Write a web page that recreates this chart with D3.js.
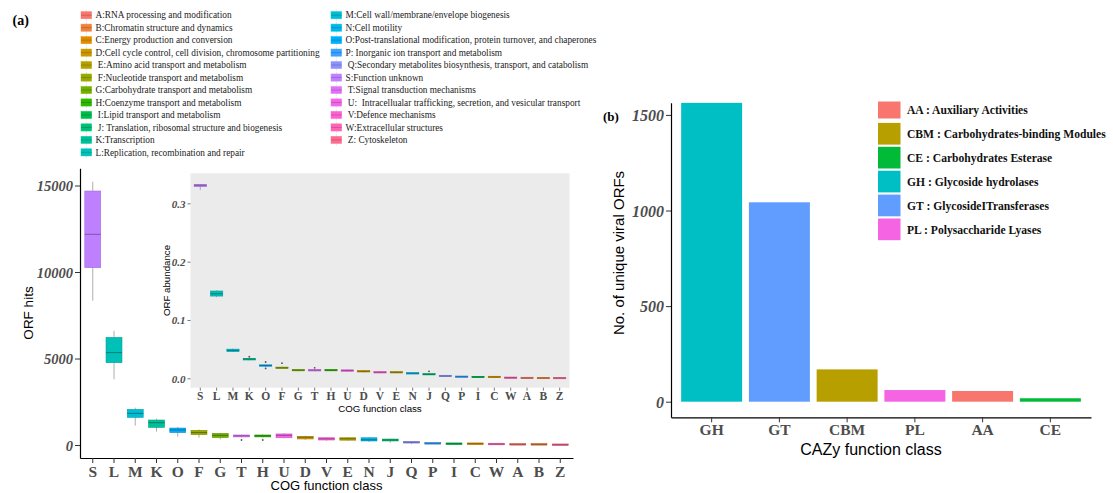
<!DOCTYPE html>
<html>
<head>
<meta charset="utf-8">
<script src="https://cdn.jsdelivr.net/npm/d3@7"></script>
<style>
  html, body { margin: 0; padding: 0; background: #fff; }
  svg { display: block; }
  text { white-space: pre; }
</style>
</head>
<body>
<svg id="chart" width="1113" height="493"></svg>
<script>
// ---------- COG panel (a) ----------
const cogClasses = ["S","L","M","K","O","F","G","T","H","U","D","V","E","N","J","Q","P","I","C","W","A","B","Z"];

// ORF hits per sample: five-number summaries
const hitsMin    = [8340, 3800, 1120,  770,  480,  420,  330,  440,  440,  380,  300,  250,  250,  180,  130,  60,  60,  40,  40,  30,  15,  15,  5];
const hitsQ1     = [10250,4760, 1600, 1020,  720,  600,  430,  470,  470,  420,  350,  290,  280,  235,  235, 130,  85,  65,  65,  50,  35,  33, 12];
const hitsMedian = [12180,5340, 1830, 1290,  870,  720,  560,  530,  530,  560,  450,  360,  360,  300,  290, 160, 100,  75,  75,  58,  40,  40, 17];
const hitsQ3     = [14680,6220, 2060, 1445,  980,  850,  670,  580,  580,  640,  500,  420,  420,  420,  345, 190, 110,  85,  85,  65,  45,  45, 20];
const hitsMax    = [15220,6600, 2160, 1520, 1050,  900,  700,  600,  600,  680,  530,  440,  440,  440,  360, 200, 120,  90,  90,  70,  50,  50, 25];
const hitsOutliers = [
  {cls: "T", value: 290},
  {cls: "H", value: 290}
];

// ORF abundance (inset): five-number summaries
const abMin    = [0.323, 0.139, 0.045,  0.031,  0.019, 0.016, 0.012, 0.012,  0.012,  0.0115, 0.010,  0.0095, 0.0095, 0.0075, 0.0062, 0.0035, 0.0022, 0.0018, 0.0018, 0.0006, 0.0002, 0.0002, 0.0001];
const abQ1     = [0.3285,0.141, 0.0457, 0.0314, 0.021, 0.017, 0.013, 0.013,  0.013,  0.0125, 0.011,  0.0098, 0.0098, 0.0080, 0.0065, 0.0038, 0.0025, 0.0020, 0.0020, 0.0008, 0.0004, 0.0003, 0.0003];
const abMedian = [0.331, 0.145, 0.048,  0.033,  0.022, 0.018, 0.014, 0.014,  0.014,  0.0135, 0.012,  0.0103, 0.0103, 0.0086, 0.0069, 0.0040, 0.0028, 0.0023, 0.0023, 0.0010, 0.0006, 0.0005, 0.0004];
const abQ3     = [0.3326,0.1497,0.050,  0.0343, 0.0228,0.019, 0.015, 0.0145, 0.015,  0.014,  0.013,  0.0108, 0.0108, 0.0090, 0.0075, 0.0042, 0.0030, 0.0025, 0.0026, 0.0012, 0.0008, 0.0007, 0.0005];
const abMax    = [0.333, 0.151, 0.051,  0.035,  0.023, 0.020, 0.0155,0.015,  0.0155, 0.015,  0.0135, 0.0125, 0.0125, 0.0095, 0.0085, 0.0045, 0.0033, 0.0028, 0.0028, 0.0015, 0.0010, 0.0009, 0.0007];
const abOutliers = [
  {cls: "K", value: 0.037},
  {cls: "O", value: 0.028},
  {cls: "O", value: 0.017},
  {cls: "F", value: 0.026},
  {cls: "T", value: 0.018},
  {cls: "J", value: 0.012}
];

const hitsTicks = [0, 5000, 10000, 15000];
const abTicks = [0.0, 0.1, 0.2, 0.3];

// legend entries (alphabetical, as in the factor levels)
const cogLegendCodes = ["A","B","C","D","E","F","G","H","I","J","K","L","M","N","O","P","Q","S","T","U","V","W","Z"];
const cogLegendLabels = [
  "A:RNA processing and modification",
  "B:Chromatin structure and dynamics",
  "C:Energy production and conversion",
  "D:Cell cycle control, cell division, chromosome partitioning",
  " E:Amino acid transport and metabolism",
  " F:Nucleotide transport and metabolism",
  "G:Carbohydrate transport and metabolism",
  "H:Coenzyme transport and metabolism",
  " I:Lipid transport and metabolism",
  " J: Translation, ribosomal structure and biogenesis",
  "K:Transcription",
  "L:Replication, recombination and repair",
  "M:Cell wall/membrane/envelope biogenesis",
  "N:Cell motility",
  "O:Post-translational modification, protein turnover, and chaperones",
  "P: Inorganic ion transport and metabolism",
  " Q:Secondary metabolites biosynthesis, transport, and catabolism",
  "S:Function unknown",
  " T:Signal transduction mechanisms",
  " U:  Intracellualar trafficking, secretion, and vesicular transport",
  " V:Defence mechanisms",
  "W:Extracellular structures",
  " Z: Cytoskeleton"
];

// ---------- CAZy panel (b) ----------
const cazyClasses = ["GH","GT","CBM","PL","AA","CE"];
const cazyCounts  = [1563, 1043, 169, 61, 56, 18];
const cazyTicks   = [0, 500, 1000, 1500];
const cazyLegendCodes  = ["AA","CBM","CE","GH","GT","PL"];
const cazyLegendLabels = [
  "AA : Auxiliary Activities",
  "CBM : Carbohydrates-binding Modules",
  "CE : Carbohydrates Esterase",
  "GH : Glycoside hydrolases",
  "GT : GlycosideITransferases",
  "PL : Polysaccharide Lyases"
];

// ---------- helpers ----------
// polar CIE-LUV -> sRGB hex (the default discrete hue palette)
function luvToHex(h, c, l) {
  const hr = h * Math.PI / 180, U = c * Math.cos(hr), V = c * Math.sin(hr);
  const Xn = 95.047, Yn = 100, Zn = 108.883;
  const dn = Xn + 15 * Yn + 3 * Zn, un = 4 * Xn / dn, vn = 9 * Yn / dn;
  const Y = l > 8 ? Yn * Math.pow((l + 16) / 116, 3) : Yn * l / 903.2963;
  const u = U / (13 * l) + un, v = V / (13 * l) + vn;
  const X = 9 * Y * u / (4 * v);
  const Z = (9 * Y / v - X - 15 * Y) / 3;
  const x = X / 100, y = Y / 100, z = Z / 100;
  const r = 3.240479 * x - 1.537150 * y - 0.498535 * z;
  const g = -0.969256 * x + 1.875992 * y + 0.041556 * z;
  const b = 0.055648 * x - 0.204043 * y + 1.057311 * z;
  const gam = t => { t = Math.max(0, Math.min(1, t)); return t <= 0.0031308 ? 12.92 * t : 1.055 * Math.pow(t, 1 / 2.4) - 0.055; };
  return d3.rgb(gam(r) * 255, gam(g) * 255, gam(b) * 255).formatHex();
}
function huePalette(n) {
  return d3.range(n).map(i => luvToHex(15 + 360 * i / n, 100, 65));
}

const cogColor = d3.scaleOrdinal().domain(cogLegendCodes).range(huePalette(cogLegendCodes.length));
const cazyColor = d3.scaleOrdinal().domain(cazyLegendCodes).range(huePalette(cazyLegendCodes.length));

const SERIF = "'Liberation Serif', 'Times New Roman', serif";
const SANS = "'Liberation Sans', Arial, sans-serif";
const TICK_GREY = "#4d4d4d";

const svg = d3.select("#chart");

function summaries(mins, q1, med, q3, maxs) {
  return cogClasses.map((c, i) => ({cls: c, min: mins[i], q1: q1[i], med: med[i], q3: q3[i], max: maxs[i]}));
}

function drawBoxes(g, data, outliers, x, y, widthFrac, minH) {
  const bw = x.bandwidth() * widthFrac;
  const cx = d => x(d.cls) + x.bandwidth() / 2;
  const grp = g.selectAll("g.box").data(data).join("g").attr("class", "box");
  grp.append("line")
    .attr("x1", cx).attr("x2", cx)
    .attr("y1", d => y(d.max)).attr("y2", d => y(d.min))
    .attr("stroke", "#9a9a9a").attr("stroke-width", 0.8);
  grp.append("rect")
    .attr("x", d => cx(d) - bw / 2)
    .attr("width", bw)
    .attr("y", d => Math.min(y(d.q3), (y(d.q1) + y(d.q3)) / 2 - minH / 2))
    .attr("height", d => Math.max(y(d.q1) - y(d.q3), minH))
    .attr("fill", d => cogColor(d.cls))
    .attr("stroke", d => d3.color(cogColor(d.cls)).darker(0.5))
    .attr("stroke-width", 0.6);
  grp.append("line")
    .attr("x1", d => cx(d) - bw / 2).attr("x2", d => cx(d) + bw / 2)
    .attr("y1", d => y(d.med)).attr("y2", d => y(d.med))
    .attr("stroke", d => d3.color(cogColor(d.cls)).darker(1.2))
    .attr("stroke-width", 1);
  g.selectAll("circle.out").data(outliers).join("circle")
    .attr("class", "out")
    .attr("cx", d => x(d.cls) + x.bandwidth() / 2)
    .attr("cy", d => y(d.value))
    .attr("r", 0.9)
    .attr("fill", "#555");
}

// ---------- panel (a): main boxplot ----------
const xMain = d3.scaleBand().domain(cogClasses).range([80, 573]).paddingInner(0).paddingOuter(0.1);
const yMain = d3.scaleLinear().domain([-750, 16000]).range([458, 168.2]);

const mainG = svg.append("g");
drawBoxes(mainG, summaries(hitsMin, hitsQ1, hitsMedian, hitsQ3, hitsMax), hitsOutliers, xMain, yMain, 0.75, 1.6);

const yAxisMain = svg.append("g").attr("transform", "translate(80,0)")
  .call(d3.axisLeft(yMain).tickValues(hitsTicks).tickSize(5).tickSizeOuter(0).tickFormat(d3.format("d")));
const xAxisMain = svg.append("g").attr("transform", "translate(0,458)")
  .call(d3.axisBottom(xMain).tickSize(5).tickSizeOuter(0));
[yAxisMain, xAxisMain].forEach(a => {
  a.select(".domain").attr("stroke", "#000").attr("stroke-width", 1.2);
  a.selectAll(".tick line").attr("stroke", "#333");
});
yAxisMain.selectAll(".tick text")
  .attr("font-family", SERIF).attr("font-size", 14.5).attr("font-weight", "bold")
  .attr("font-style", "italic").attr("fill", TICK_GREY).attr("x", -7).attr("dy", "0.36em");
xAxisMain.selectAll(".tick text")
  .attr("font-family", SERIF).attr("font-size", 15.5).attr("font-weight", "bold")
  .attr("fill", TICK_GREY).attr("y", 8);

svg.append("text").attr("transform", "translate(33,313) rotate(-90)")
  .attr("text-anchor", "middle").attr("font-family", SANS).attr("font-size", 13.5)
  .text("ORF hits");
svg.append("text").attr("x", 326.5).attr("y", 490)
  .attr("text-anchor", "middle").attr("font-family", SANS).attr("font-size", 13)
  .text("COG function class");

// ---------- panel (a): inset of relative abundance ----------
const xIn = d3.scaleBand().domain(cogClasses).range([190.5, 569.5]).paddingInner(0).paddingOuter(0.1);
const yIn = d3.scaleLinear().domain([-0.0161, 0.3515]).range([387.7, 173.3]);

svg.append("rect")
  .attr("x", 190.5).attr("y", 173.3)
  .attr("width", 569.5 - 190.5).attr("height", 387.7 - 173.3)
  .attr("fill", "#ebebeb");

const inG = svg.append("g");
drawBoxes(inG, summaries(abMin, abQ1, abMedian, abQ3, abMax), abOutliers, xIn, yIn, 0.75, 1.4);

const yAxisIn = svg.append("g").attr("transform", "translate(190.5,0)")
  .call(d3.axisLeft(yIn).tickValues(abTicks).tickSize(3).tickSizeOuter(0).tickFormat(d3.format(".1f")));
const xAxisIn = svg.append("g").attr("transform", "translate(0,387.7)")
  .call(d3.axisBottom(xIn).tickSize(3).tickSizeOuter(0));
[yAxisIn, xAxisIn].forEach(a => {
  a.select(".domain").remove();
  a.selectAll(".tick line").attr("stroke", "#555").attr("stroke-width", 0.8);
});
yAxisIn.selectAll(".tick text")
  .attr("font-family", SERIF).attr("font-size", 11).attr("font-weight", "bold")
  .attr("font-style", "italic").attr("fill", TICK_GREY).attr("x", -5).attr("dy", "0.36em");
xAxisIn.selectAll(".tick text")
  .attr("font-family", SERIF).attr("font-size", 11.5).attr("font-weight", "bold")
  .attr("fill", TICK_GREY).attr("y", 4);

svg.append("text").attr("transform", "translate(169.5,280.5) rotate(-90)")
  .attr("text-anchor", "middle").attr("font-family", SANS).attr("font-size", 9.7)
  .text("ORF abundance");
svg.append("text").attr("x", 380).attr("y", 411.5)
  .attr("text-anchor", "middle").attr("font-family", SANS).attr("font-size", 9.7)
  .text("COG function class");

// ---------- panel (a): legend ----------
svg.append("text").attr("x", 12.5).attr("y", 25)
  .attr("font-family", SERIF).attr("font-size", 14).attr("font-weight", "bold")
  .text("(a)");

const legItems = cogLegendCodes.map((c, i) => ({code: c, label: cogLegendLabels[i], col: i < 12 ? 0 : 1, row: i < 12 ? i : i - 12}));
const legG = svg.append("g");
const leg = legG.selectAll("g").data(legItems).join("g")
  .attr("transform", d => `translate(${d.col === 0 ? 81 : 331},${15.2 + d.row * 12.47})`);
leg.append("line").attr("x1", 5.35).attr("x2", 5.35).attr("y1", -5.5).attr("y2", 5.5)
  .attr("stroke", "#cfcfcf").attr("stroke-width", 0.6);
leg.append("rect").attr("x", 0).attr("y", -3.6).attr("width", 10.7).attr("height", 7.2)
  .attr("fill", d => cogColor(d.code))
  .attr("stroke", d => d3.color(cogColor(d.code)).brighter(0.3)).attr("stroke-width", 0.5);
leg.append("line").attr("x1", 0).attr("x2", 10.7).attr("y1", 0).attr("y2", 0)
  .attr("stroke", d => d3.color(cogColor(d.code)).darker(0.8)).attr("stroke-width", 0.7);
leg.append("text").attr("x", 14.5).attr("dy", "0.35em")
  .attr("font-family", SERIF).attr("font-size", 9.3).attr("fill", "#222")
  .text(d => d.label);

// ---------- panel (b): CAZy bar chart ----------
const xR = d3.scaleBand().domain(cazyClasses).range([671, 1091]).paddingInner(0.1).paddingOuter(0.15);
const yR = d3.scaleLinear().domain([-81.6, 1564]).range([417.3, 102.7]);

svg.append("g").selectAll("rect").data(cazyClasses.map((c, i) => ({cls: c, n: cazyCounts[i]}))).join("rect")
  .attr("x", d => xR(d.cls))
  .attr("width", xR.bandwidth())
  .attr("y", d => yR(d.n))
  .attr("height", d => yR(0) - yR(d.n))
  .attr("fill", d => cazyColor(d.cls));

const yAxisR = svg.append("g").attr("transform", "translate(671,0)")
  .call(d3.axisLeft(yR).tickValues(cazyTicks).tickSize(5).tickSizeOuter(0).tickFormat(d3.format("d")));
const xAxisR = svg.append("g").attr("transform", "translate(0,417.3)")
  .call(d3.axisBottom(xR).tickSize(5).tickSizeOuter(0));
[yAxisR, xAxisR].forEach(a => {
  a.select(".domain").attr("stroke", "#000").attr("stroke-width", 1.2);
  a.selectAll(".tick line").attr("stroke", "#333");
});
yAxisR.selectAll(".tick text")
  .attr("font-family", SERIF).attr("font-size", 16).attr("font-weight", "bold")
  .attr("font-style", "italic").attr("fill", TICK_GREY).attr("x", -7).attr("dy", "0.36em");
xAxisR.selectAll(".tick text")
  .attr("font-family", SERIF).attr("font-size", 15.5).attr("font-weight", "bold")
  .attr("fill", TICK_GREY).attr("y", 7);

svg.append("text").attr("transform", "translate(624,253) rotate(-90)")
  .attr("text-anchor", "middle").attr("font-family", SANS).attr("font-size", 15)
  .text("No. of unique viral ORFs");
svg.append("text").attr("x", 871).attr("y", 455)
  .attr("text-anchor", "middle").attr("font-family", SANS).attr("font-size", 16)
  .text("CAZy function class");

svg.append("text").attr("x", 603).attr("y", 121)
  .attr("font-family", SERIF).attr("font-size", 13).attr("font-weight", "bold")
  .text("(b)");

// ---------- panel (b): legend ----------
const rLeg = svg.append("g").selectAll("g")
  .data(cazyLegendCodes.map((c, i) => ({code: c, label: cazyLegendLabels[i], i})))
  .join("g")
  .attr("transform", d => `translate(878,${110 + d.i * 23.9})`);
rLeg.append("rect").attr("x", 0).attr("y", d => d.i === 0 ? -8.5 : -11)
  .attr("width", 22.5).attr("height", d => d.i === 0 ? 17 : 21.7)
  .attr("fill", d => cazyColor(d.code));
rLeg.append("text").attr("x", 29).attr("dy", "0.35em")
  .attr("font-family", SERIF).attr("font-size", 11.6).attr("font-weight", "bold").attr("fill", "#111")
  .text(d => d.label);
</script>
</body>
</html>
